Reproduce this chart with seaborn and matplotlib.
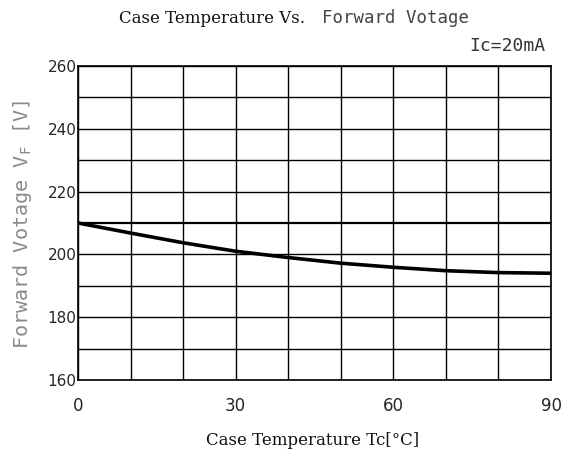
import numpy as np
import pandas as pd
import matplotlib
matplotlib.use("Agg")
import matplotlib.pyplot as plt
import seaborn as sns

# values
case_temp = [0, 10, 20, 30, 40, 50, 60, 70, 80, 90]
forward_v = [210.0, 206.8, 203.7, 201.0, 199.0, 197.2, 195.9, 194.8, 194.2, 194.0]

x_ticks = [0, 30, 60, 90]
y_ticks = [160, 180, 200, 220, 240, 260]

sns.set_style("white")
plt.rcParams["mathtext.default"] = "regular"

df = pd.DataFrame({"Tc": case_temp, "VF": forward_v})

fig = plt.figure(figsize=(5.74, 4.57), dpi=100)
ax = fig.add_axes([0.1359, 0.1685, 0.8241, 0.6871])

# grid every 10 units, a bit heavier at 210 V
for xv in range(0, 91, 10):
    ax.axvline(xv, color="black", lw=1.0, zorder=1)
for yv in range(160, 261, 10):
    ax.axhline(yv, color="black", lw=1.6 if yv == 210 else 1.0, zorder=1)

sns.lineplot(data=df, x="Tc", y="VF", color="black", lw=2.6, ax=ax, zorder=3)

ax.set_xlim(0, 90)
ax.set_ylim(160, 260)
ax.set_xticks(x_ticks)
ax.set_yticks(y_ticks)
ax.tick_params(axis="x", length=0, pad=12, labelsize=12)
ax.tick_params(axis="y", length=0, pad=1, labelsize=11)
for lab in ax.get_xticklabels() + ax.get_yticklabels():
    lab.set_family("DejaVu Sans")
for s in ax.spines.values():
    s.set_color("black")
    s.set_linewidth(1.2)

ax.set_xlabel("")
ax.set_ylabel("")

fig.text(0.207, 0.960, "Case Temperature Vs.", family="DejaVu Serif",
         fontsize=12, ha="left", va="center", color="#111111")
fig.text(0.561, 0.960, "Forward Votage", family="DejaVu Sans Mono",
         fontsize=12.5, ha="left", va="center", color="#444444")
fig.text(0.95, 0.900, "Ic=20mA", family="DejaVu Sans Mono", fontsize=13,
         ha="right", va="center", color="#333333")
fig.text(0.040, 0.508, "Forward Votage V$_F$ [V]", family="DejaVu Sans Mono",
         fontsize=14.5, rotation=90, ha="center", va="center", color="#8a8a8a")
fig.text(0.545, 0.037, "Case Temperature Tc[°C]", family="DejaVu Serif",
         fontsize=12, ha="center", va="center", color="#111111")

fig.savefig("out.png", dpi=100)
